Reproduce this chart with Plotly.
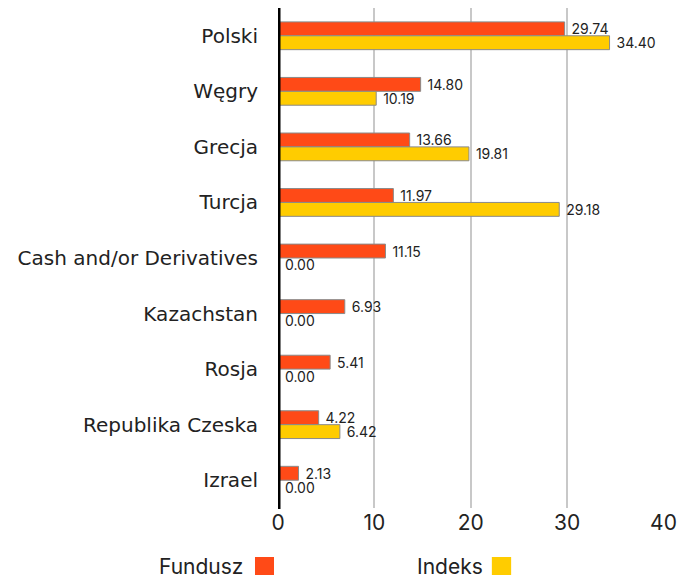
import plotly.graph_objects as go

categories = ["Polski", "Węgry", "Grecja", "Turcja", "Cash and/or Derivatives",
              "Kazachstan", "Rosja", "Republika Czeska", "Izrael"]
fundusz = [29.74, 14.80, 13.66, 11.97, 11.15, 6.93, 5.41, 4.22, 2.13]
indeks = [34.40, 10.19, 19.81, 29.18, 0.00, 0.00, 0.00, 6.42, 0.00]
x_ticks = [0, 10, 20, 30, 40]

ORANGE = "#FF4A17"
YELLOW = "#FFCC00"
FONT = "Inter"
NB = "\u00a0"

fig = go.Figure()
fig.add_trace(go.Bar(
    y=categories, x=fundusz, orientation="h", name="Fundusz",
    marker=dict(color=ORANGE, line=dict(color="#8a8a8a", width=1)),
    text=[f"{NB}{v:.2f}" for v in fundusz], textposition="outside",
    constraintext="none",
    textfont=dict(size=14, color="#222", family=FONT), cliponaxis=False,
))
fig.add_trace(go.Bar(
    y=categories, x=indeks, orientation="h", name="Indeks",
    marker=dict(color=YELLOW, line=dict(color="#8a8a8a", width=1)),
    text=[f"{NB}{v:.2f}" for v in indeks], textposition="outside",
    constraintext="none",
    textfont=dict(size=14, color="#222", family=FONT), cliponaxis=False,
))

fig.update_layout(
    width=682, height=573,
    margin=dict(l=270, r=26, t=0, b=73),
    paper_bgcolor="white", plot_bgcolor="white",
    barmode="group", bargap=0.5, bargroupgap=0,
    showlegend=False,
    font=dict(family=FONT, color="#222"),
    xaxis=dict(range=[0, 40.05], tickvals=x_ticks, showgrid=True,
               gridcolor="#c8c8c8", gridwidth=2, zeroline=False,
               tickfont=dict(size=21, color="#222"), ticks="", showline=False),
    yaxis=dict(autorange="reversed", tickfont=dict(size=20, color="#222", family="DejaVu Sans"),
               ticks="", showline=False, ticklabelstandoff=19),
)

# thick black axis line at zero
fig.add_shape(type="line", xref="x", yref="paper", x0=0, x1=0, y0=-0.002, y1=1.0,
              line=dict(color="black", width=5))

# custom legend (text then swatch)
fig.add_annotation(xref="paper", yref="paper", x=-0.0855, y=-0.118, text="Fundusz",
                   showarrow=False, xanchor="right", yanchor="middle",
                   font=dict(size=21, color="#222", family=FONT))
fig.add_shape(type="rect", xref="paper", yref="paper", x0=-0.0596, x1=-0.0104,
              y0=-0.134, y1=-0.098, fillcolor=ORANGE, line=dict(width=0))
fig.add_annotation(xref="paper", yref="paper", x=0.536, y=-0.118, text="Indeks",
                   showarrow=False, xanchor="right", yanchor="middle",
                   font=dict(size=21, color="#222", family=FONT))
fig.add_shape(type="rect", xref="paper", yref="paper", x0=0.554, x1=0.604,
              y0=-0.134, y1=-0.098, fillcolor=YELLOW, line=dict(width=0))

fig.write_html("out.html")
